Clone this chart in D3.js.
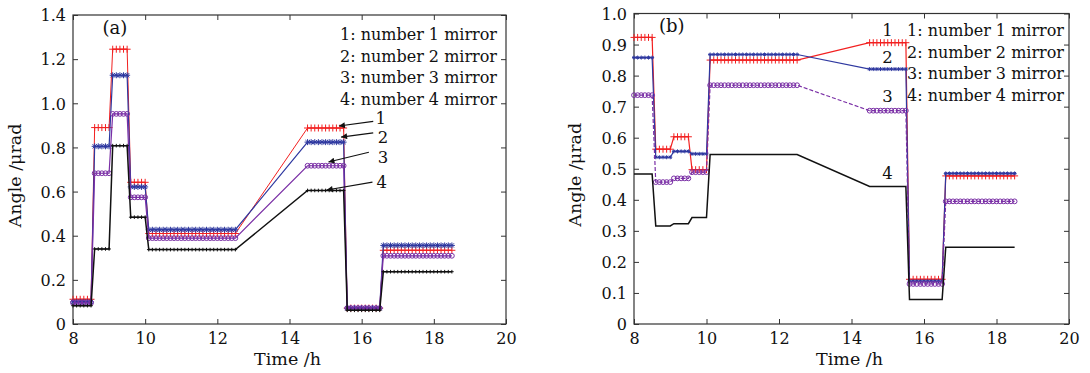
<!DOCTYPE html>
<html>
<head>
<meta charset="utf-8">
<script src="https://cdn.jsdelivr.net/npm/d3@7/dist/d3.min.js"></script>
<style>
  body { margin: 0; background: #fff; }
  svg text { font-family: "DejaVu Serif", "Liberation Serif", serif; fill: #111; }
</style>
</head>
<body>
<svg id="chart" width="1090" height="373"></svg>
<script>
// sample times (h), one run per constant reading
const runTimes = [
  [8.0, 8.1, 8.2, 8.3, 8.4, 8.5],
  [8.6, 8.7, 8.8, 8.9, 9.0],
  [9.1, 9.2, 9.3, 9.4, 9.5],
  [9.6, 9.7, 9.8, 9.9, 10.0],
  [10.1, 10.2, 10.3, 10.4, 10.5, 10.6, 10.7, 10.8, 10.9, 11.0, 11.1, 11.2, 11.3,
   11.4, 11.5, 11.6, 11.7, 11.8, 11.9, 12.0, 12.1, 12.2, 12.3, 12.4, 12.5],
  [14.5, 14.6, 14.7, 14.8, 14.9, 15.0, 15.1, 15.2, 15.3, 15.4, 15.5],
  [15.6, 15.7, 15.8, 15.9, 16.0, 16.1, 16.2, 16.3, 16.4, 16.5],
  [16.6, 16.7, 16.8, 16.9, 17.0, 17.1, 17.2, 17.3, 17.4, 17.5, 17.6, 17.7, 17.8,
   17.9, 18.0, 18.1, 18.2, 18.3, 18.4, 18.5]
];

// panel (a): angle per run, mirrors 1..4
const a1 = [0.112, 0.890, 1.245, 0.642, 0.410, 0.888, 0.072, 0.334];
const a2 = [0.100, 0.805, 1.127, 0.621, 0.427, 0.824, 0.072, 0.356];
const a3 = [0.096, 0.683, 0.952, 0.574, 0.389, 0.717, 0.072, 0.309];
const a4 = [0.083, 0.340, 0.808, 0.484, 0.337, 0.605, 0.062, 0.237];

// panel (b)
const b1 = [0.923, 0.563, 0.603, 0.497, 0.850, 0.906, 0.144, 0.477];
const b2 = [0.858, 0.537, 0.556, 0.548, 0.868, 0.821, 0.138, 0.485];
const b3 = [0.737, 0.457, 0.469, 0.489, 0.769, 0.687, 0.129, 0.395];
const b4 = [0.483, 0.316, 0.323, 0.343, 0.546, 0.443, 0.079, 0.247];

const xTicks = [8, 10, 12, 14, 16, 18, 20];
const yTicksA = [0, 0.2, 0.4, 0.6, 0.8, 1.0, 1.2, 1.4];
const yTicksB = [0, 0.1, 0.2, 0.3, 0.4, 0.5, 0.6, 0.7, 0.8, 0.9, 1.0];
const legendLabels = ["1: number 1 mirror", "2: number 2 mirror", "3: number 3 mirror", "4: number 4 mirror"];

const RED = "#f22020", BLUE = "#2e38a0", PURPLE = "#7a2fa6", BLACK = "#111";

const svg = d3.select("#chart");
svg.append("rect").attr("width", 1090).attr("height", 373).attr("fill", "#fff");

svg.append("defs").append("marker")
  .attr("id", "arrow")
  .attr("viewBox", "0 0 10 10")
  .attr("refX", 10).attr("refY", 5)
  .attr("markerWidth", 8).attr("markerHeight", 6)
  .attr("markerUnits", "userSpaceOnUse")
  .attr("orient", "auto")
  .append("path").attr("d", "M0,0L10,5L0,10Z").attr("fill", BLACK);

function toPoints(levels) {
  const pts = [];
  runTimes.forEach((ts, i) => ts.forEach(t => pts.push([t, levels[i]])));
  return pts;
}

function markerPath(kind, s) {
  if (kind === "plus") return `M${-s},0H${s}M0,${-s}V${s}`;
  if (kind === "star") {
    const d = s * 0.7;
    return `M${-s},0H${s}M0,${-s}V${s}M${-d},${-d}L${d},${d}M${-d},${d}L${d},${-d}`;
  }
  return "";
}

function drawPanel(p) {
  const x = d3.scaleLinear().domain([8, 20]).range([p.left, p.right]);
  const y = d3.scaleLinear().domain([0, p.yMax]).range([p.bottom, p.top]);
  const g = svg.append("g");
  const fmt = d => d === 0 ? "0" : d3.format(".1f")(d);

  // axes (ticks inside, box all round)
  const bottom = g.append("g").attr("transform", `translate(0,${p.bottom})`)
    .call(d3.axisBottom(x).tickValues(xTicks).tickSizeInner(-5).tickSizeOuter(0).tickPadding(8));
  const left = g.append("g").attr("transform", `translate(${p.left},0)`)
    .call(d3.axisLeft(y).tickValues(p.yTicks).tickFormat(fmt).tickSizeInner(-5).tickSizeOuter(0).tickPadding(7));
  g.append("g").attr("transform", `translate(0,${p.top})`)
    .call(d3.axisTop(x).tickValues(xTicks).tickSizeInner(-5).tickSizeOuter(0).tickFormat(""));
  g.append("g").attr("transform", `translate(${p.right},0)`)
    .call(d3.axisRight(y).tickValues(p.yTicks).tickSizeInner(-5).tickSizeOuter(0).tickFormat(""));
  g.selectAll(".domain").remove();
  g.selectAll(".tick line").attr("stroke", "#333");
  g.selectAll(".tick text").attr("font-size", 16).attr("font-family", "DejaVu Serif").attr("fill", "#111");
  bottom.selectAll("text").attr("dy", "0.78em");
  left.selectAll("text").attr("dy", "0.36em");

  g.append("rect")
    .attr("x", p.left).attr("y", p.top)
    .attr("width", p.right - p.left).attr("height", p.bottom - p.top)
    .attr("fill", "none").attr("stroke", "#333").attr("stroke-width", 1.2);

  const line = d3.line().x(d => x(d[0])).y(d => y(d[1]));

  p.series.forEach(s => {
    const pts = toPoints(s.values);
    g.append("path").datum(pts)
      .attr("d", line)
      .attr("fill", "none")
      .attr("stroke", s.color)
      .attr("stroke-width", s.width)
      .attr("stroke-dasharray", s.dash || null);

    if (s.marker === "circle") {
      g.append("g").selectAll("circle").data(pts).join("circle")
        .attr("cx", d => x(d[0])).attr("cy", d => y(d[1]))
        .attr("r", s.size)
        .attr("fill", "none").attr("stroke", s.color).attr("stroke-width", 1);
    } else if (s.marker) {
      g.append("g").selectAll("path").data(pts).join("path")
        .attr("transform", d => `translate(${x(d[0])},${y(d[1])})`)
        .attr("d", markerPath(s.marker, s.size))
        .attr("fill", "none").attr("stroke", s.color).attr("stroke-width", 1);
    }
  });

  // legend text, top right
  g.append("g").selectAll("text").data(legendLabels).join("text")
    .attr("x", p.legendX)
    .attr("y", (d, i) => p.legendY + i * 21.5)
    .attr("text-anchor", "end")
    .attr("font-size", 16)
    .text(d => d);

  // series numbers with optional arrows
  p.notes.forEach(n => {
    if (n.tip) {
      g.append("line")
        .attr("x1", x(n.tail[0])).attr("y1", y(n.tail[1]))
        .attr("x2", x(n.tip[0])).attr("y2", y(n.tip[1]))
        .attr("stroke", BLACK).attr("stroke-width", 1.2)
        .attr("marker-end", "url(#arrow)");
    }
    g.append("text")
      .attr("x", x(n.at[0])).attr("y", y(n.at[1]))
      .attr("text-anchor", "middle")
      .attr("font-size", 16.5)
      .text(n.label);
  });

  g.append("text")
    .attr("x", x(p.tag[0])).attr("y", y(p.tag[1]))
    .attr("text-anchor", "middle")
    .attr("font-size", 18)
    .text(p.tagText);

  g.append("text")
    .attr("transform", `translate(${p.yLabelX},${(p.top + p.bottom) / 2 + 6}) rotate(-90)`)
    .attr("text-anchor", "middle")
    .attr("dominant-baseline", "central")
    .attr("font-size", 17.5)
    .text("Angle /\u03bcrad");

  g.append("text")
    .attr("x", (p.left + p.right) / 2 - 2).attr("y", 365)
    .attr("text-anchor", "middle")
    .attr("font-size", 17.5)
    .text("Time /h");
}

drawPanel({
  left: 73, right: 506, top: 15, bottom: 324, yMax: 1.4, yTicks: yTicksA,
  legendX: 497, legendY: 40, yLabelX: 15,
  tag: [9.16, 1.315], tagText: "(a)",
  series: [
    { values: a1, color: RED, width: 1, marker: "plus", size: 3.5 },
    { values: a2, color: BLUE, width: 1.2, marker: "star", size: 3 },
    { values: a3, color: PURPLE, width: 1.2, marker: "circle", size: 2.4 },
    { values: a4, color: BLACK, width: 1.5, marker: "plus", size: 1.8 }
  ],
  notes: [
    { label: "1", at: [16.53, 0.908], tail: [16.32, 0.918], tip: [15.37, 0.897] },
    { label: "2", at: [16.59, 0.818], tail: [16.32, 0.866], tip: [15.43, 0.847] },
    { label: "3", at: [16.59, 0.731], tail: [16.2, 0.778], tip: [15.08, 0.734] },
    { label: "4", at: [16.56, 0.615], tail: [16.3, 0.643], tip: [15.03, 0.607] }
  ]
});

drawPanel({
  left: 634, right: 1069, top: 13.5, bottom: 324, yMax: 1.0, yTicks: yTicksB,
  legendX: 1064, legendY: 36, yLabelX: 575,
  tag: [9.04, 0.94], tagText: "(b)",
  series: [
    { values: b1, color: RED, width: 1.2, marker: "plus", size: 3.5 },
    { values: b2, color: BLUE, width: 1.2, marker: "star", size: 2 },
    { values: b3, color: PURPLE, width: 1.2, marker: "circle", size: 2.4, dash: "4,2" },
    { values: b4, color: BLACK, width: 1.5 }
  ],
  notes: [
    { label: "1", at: [14.99, 0.927] },
    { label: "2", at: [14.99, 0.839] },
    { label: "3", at: [14.99, 0.716] },
    { label: "4", at: [14.99, 0.467] }
  ]
});
</script>
</body>
</html>
